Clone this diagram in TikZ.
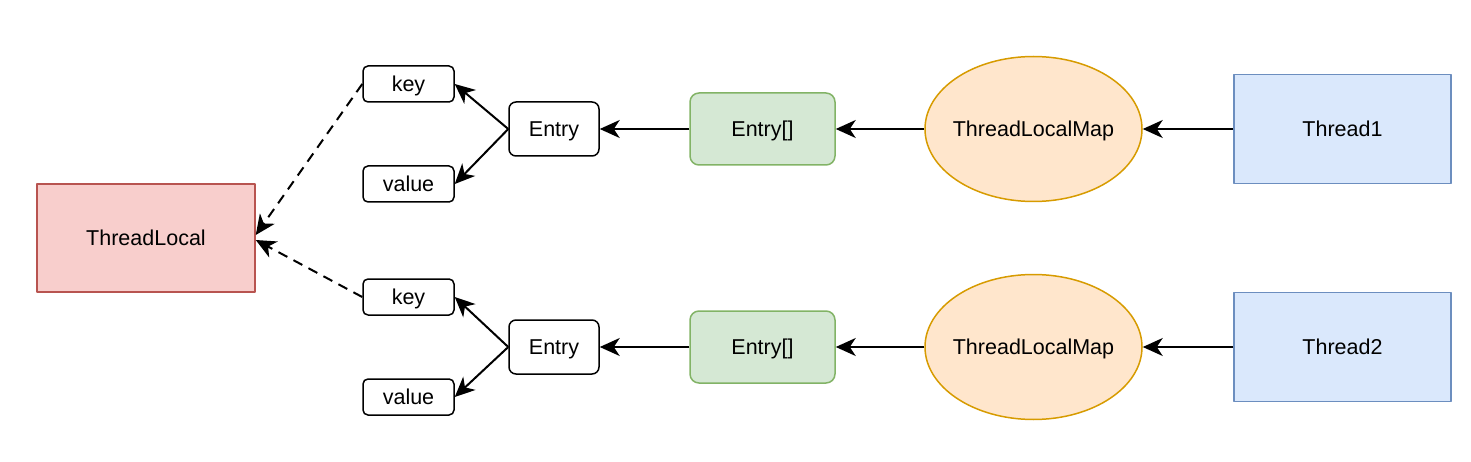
\documentclass[tikz,border=0pt]{standalone}
\usepackage{fontspec}
\setmainfont{Liberation Sans}
\usetikzlibrary{shapes.geometric,arrows.meta}
\definecolor{redfill}{HTML}{F8CECC}\definecolor{redline}{HTML}{B85450}
\definecolor{greenfill}{HTML}{D5E8D4}\definecolor{greenline}{HTML}{82B366}
\definecolor{orangefill}{HTML}{FFE6CC}\definecolor{orangeline}{HTML}{D79B00}
\definecolor{bluefill}{HTML}{DAE8FC}\definecolor{blueline}{HTML}{6C8EBF}
\tikzset{
  every node/.style={text height=15.5pt,text depth=0pt,line width=1.5pt},
  link/.style={-{Stealth[length=20pt,width=18pt,inset=6pt]}},
  small/.style={draw,rounded corners=5pt,minimum width=91pt,minimum height=36pt,inner sep=0pt},
  entrybox/.style={draw,rounded corners=7pt,minimum width=90pt,minimum height=54pt,inner sep=0pt},
  arraybox/.style={draw=greenline,fill=greenfill,rounded corners=9pt,minimum width=145pt,minimum height=72pt,inner sep=0pt},
  mapnode/.style={ellipse,draw=orangeline,fill=orangefill,minimum width=217pt,minimum height=145pt,inner xsep=-4.5pt,inner ysep=0pt},
  threadbox/.style={draw=blueline,fill=bluefill,minimum width=217pt,minimum height=109pt,inner sep=0pt},
}
\begin{document}
\begin{tikzpicture}[line width=2pt,line join=round,x=1pt,y=-1pt,font=\fontsize{21.5}{24}\selectfont]
\useasboundingbox (0,0) rectangle (1471,462);
\node[draw=redline,fill=redfill,minimum width=218pt,minimum height=108pt,inner sep=0pt] (tl) at (146,238) {ThreadLocal};
\foreach \i/\y/\ky/\vy in {1/129/84/184,2/347/297/397}{
  \node[threadbox] (thread\i) at (1342.5,\y) {Thread\i};
  \node[mapnode] (map\i) at (1033.5,\y) {ThreadLocalMap};
  \node[arraybox] (arr\i) at (762.5,\y) {Entry[]};
  \node[entrybox] (entry\i) at (554,\y) {Entry};
  \node[small] (key\i) at (408.5,\ky) {key};
  \node[small] (val\i) at (408.5,\vy) {value};
  \draw[link] (thread\i) -- (map\i);
  \draw[link] (map\i) -- (arr\i);
  \draw[link] (arr\i) -- (entry\i);
  \draw[link] (entry\i.west) -- (key\i.east);
  \draw[link] (entry\i.west) -- (val\i.east);
}
\draw[link,dash pattern=on 10pt off 7pt] (key1.west) -- ([yshift=3pt]tl.east);
\draw[link,dash pattern=on 10pt off 7pt] (key2.west) -- ([yshift=-2pt]tl.east);
\end{tikzpicture}
\end{document}
